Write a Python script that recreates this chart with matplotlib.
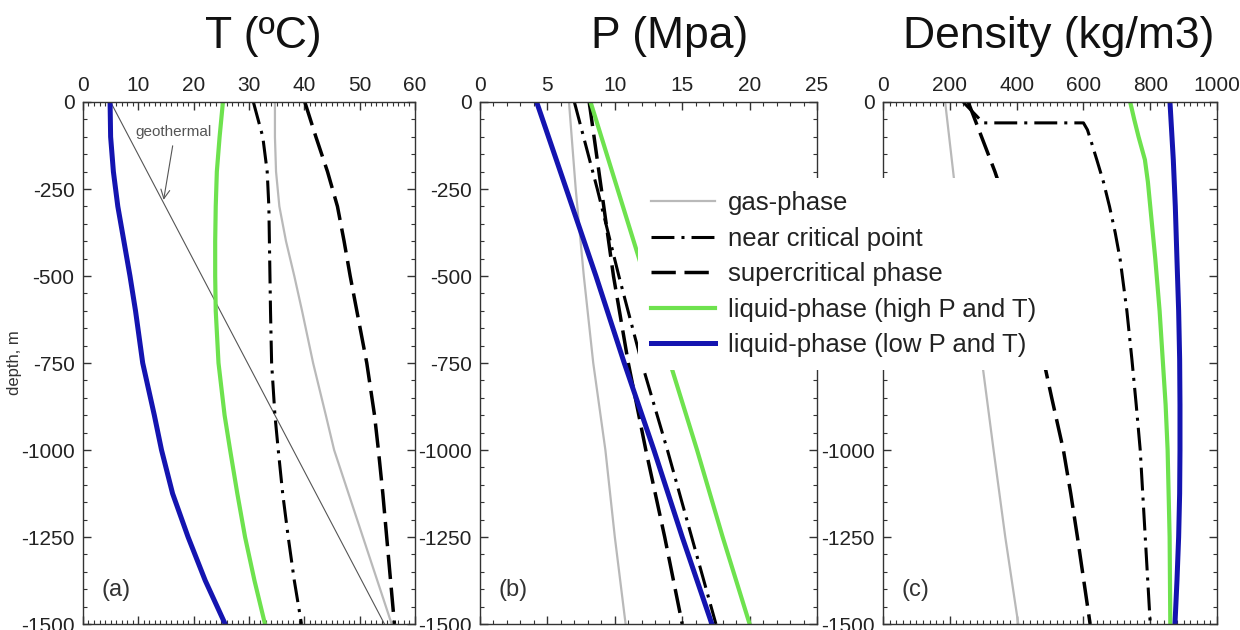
import matplotlib
matplotlib.use("Agg")
import matplotlib.pyplot as plt
from matplotlib.ticker import MultipleLocator, FuncFormatter

plt.rcParams["font.family"] = ["Liberation Sans", "DejaVu Sans"]
plt.rcParams["axes.unicode_minus"] = False

# ---- data (depth in m, negative downwards) ----
# panel (a) temperature, degC
depth_T = [0, -100, -200, -300, -400, -500, -600, -750, -900, -1000, -1125, -1250, -1375, -1500]
T_gas = [34.7, 34.7, 34.9, 35.5, 36.7, 38.2, 39.6, 41.6, 43.9, 45.4, 48.0, 50.6, 53.2, 55.8]
T_near = [30.8, 32.5, 33.3, 33.6, 33.7, 33.8, 33.9, 34.1, 34.7, 35.3, 36.1, 37.1, 38.2, 39.5]
T_super = [40.1, 42.1, 44.2, 46.0, 47.2, 48.3, 49.5, 51.3, 52.7, 53.4, 54.2, 54.9, 55.6, 56.3]
T_liq_high = [25.3, 24.7, 24.2, 24.0, 23.9, 23.9, 24.0, 24.5, 25.6, 26.6, 27.9, 29.3, 31.0, 32.9]
T_liq_low = [4.9, 5.0, 5.5, 6.3, 7.4, 8.5, 9.5, 10.8, 12.9, 14.2, 16.2, 19.0, 22.1, 25.7]
depth_geo = [0, -1500]
T_geo = [5.0, 54.5]

# panel (b) pressure, MPa
depth_P = [0, -250, -500, -750, -1000, -1250, -1500]
P_gas = [6.6, 7.1, 7.7, 8.4, 9.3, 10.0, 10.8]
P_near = [7.0, 8.7, 10.3, 12.0, 13.9, 15.7, 17.5]
P_super = [8.1, 9.0, 9.9, 11.0, 12.3, 13.7, 15.0]
P_liq_high = [8.2, 10.2, 12.2, 14.1, 16.1, 18.0, 20.0]
P_liq_low = [4.2, 6.4, 8.6, 10.7, 12.9, 15.0, 17.2]

# panel (c) density, kg/m3
depth_D_gas = [0, -250, -500, -750, -1000, -1250, -1500]
D_gas = [186, 216, 255, 297, 331, 366, 405]
depth_D_near = [0, -60, -60, -80, -110, -166, -230, -300, -375, -453, -600, -739,
                -870, -1000, -1250, -1500]
D_near = [240, 300, 600, 612, 622, 640, 660, 678, 695, 710, 730, 745, 758, 770, 785, 800]
depth_D_super = [0, -100, -200, -300, -400, -500, -650, -850, -1000, -1125, -1250, -1375, -1500]
D_super = [255, 295, 335, 370, 400, 428, 460, 505, 540, 562, 582, 601, 620]
depth_D_high = [0, -50, -100, -166, -230, -300, -450, -600, -750, -870, -1000, -1250, -1500]
D_liq_high = [740, 752, 765, 784, 793, 800, 815, 828, 838, 846, 852, 858, 860]
depth_D_low = [0, -166, -300, -453, -600, -739, -870, -1000, -1125, -1250, -1375, -1500]
D_liq_low = [859, 869, 875, 880, 885, 888, 889, 889, 888, 885, 880, 874]

labels = ["gas-phase", "near critical point", "supercritical phase",
          "liquid-phase (high P and T)", "liquid-phase (low P and T)"]

# line styles
gray = "#b9b9b9"
green = "#6ee24e"
blue = "#1414b0"
st_gas = dict(color=gray, lw=1.6)
st_near = dict(color="black", lw=2.2, linestyle=(0, (7.5, 2.3, 1, 2.3)))
st_super = dict(color="black", lw=2.5, linestyle=(0, (7, 2.5)))
st_high = dict(color=green, lw=3.0)
st_low = dict(color=blue, lw=3.6)

fig = plt.figure(figsize=(12.4, 6.3), dpi=100)
bottom, height = 0.0095, 0.8286
ax1 = fig.add_axes([0.0669, bottom, 0.2677, height])
ax2 = fig.add_axes([0.3871, bottom, 0.2718, height])
ax3 = fig.add_axes([0.7121, bottom, 0.2694, height])

# (a) temperature
ax1.plot(T_geo, depth_geo, color="#555555", lw=0.8)
ax1.plot(T_gas, depth_T, **st_gas)
ax1.plot(T_near, depth_T, **st_near)
ax1.plot(T_super, depth_T, **st_super)
ax1.plot(T_liq_high, depth_T, **st_high)
ax1.plot(T_liq_low, depth_T, **st_low)
ax1.text(16.3, -86, "geothermal", ha="center", va="center", fontsize=11, color="#555555")
ax1.annotate("", xy=(14.5, -289), xytext=(16.3, -118),
             arrowprops=dict(arrowstyle="->", color="#555555", lw=0.8, mutation_scale=16))

# (b) pressure
ax2.plot(P_gas, depth_P, **st_gas)
ax2.plot(P_near, depth_P, **st_near)
ax2.plot(P_super, depth_P, **st_super)
ax2.plot(P_liq_high, depth_P, **st_high)
ax2.plot(P_liq_low, depth_P, **st_low)

# (c) density
h_gas, = ax3.plot(D_gas, depth_D_gas, **st_gas)
h_near, = ax3.plot(D_near, depth_D_near, **st_near)
h_super, = ax3.plot(D_super, depth_D_super, **st_super)
h_high, = ax3.plot(D_liq_high, depth_D_high, **st_high)
h_low, = ax3.plot(D_liq_low, depth_D_low, **st_low)

limits = [(0, 60, 10, 1), (0, 25, 5, 1), (0, 1000, 200, 20)]
for ax, (x0, x1, major, minor), tag in zip([ax1, ax2, ax3], limits, ["(a)", "(b)", "(c)"]):
    ax.set_xlim(x0, x1)
    ax.set_ylim(-1500, 0)
    ax.xaxis.set_major_locator(MultipleLocator(major))
    ax.xaxis.set_minor_locator(MultipleLocator(minor))
    ax.yaxis.set_major_locator(MultipleLocator(250))
    ax.yaxis.set_minor_locator(MultipleLocator(50))
    ax.tick_params(axis="both", which="both", direction="in", top=True, bottom=True,
                   left=True, right=True, labeltop=True, labelbottom=False,
                   colors="#333333", labelcolor="#222222")
    ax.tick_params(axis="both", which="major", length=6, width=1, labelsize=15)
    ax.tick_params(axis="x", which="major", pad=5)
    ax.tick_params(axis="y", which="major", pad=6)
    ax.tick_params(axis="both", which="minor", length=3, width=0.8)
    for sp in ax.spines.values():
        sp.set_color("#333333")
        sp.set_linewidth(1.0)
    ax.text(0.055, 0.066, tag, transform=ax.transAxes, fontsize=17,
            color="#333333", va="center", ha="left")

# depth labels of panel (c) that sit under the legend box are not shown
ax3.yaxis.set_major_formatter(FuncFormatter(
    lambda v, pos: "" if -800 < v < -100 else "%d" % v))

ax1.set_ylabel("depth, m", fontsize=12, color="#333333", labelpad=-1)

fig.text(0.2125, 0.924, "T (ºC)", ha="center", va="baseline", fontsize=32, color="#111111")
fig.text(0.540, 0.924, "P (Mpa)", ha="center", va="baseline", fontsize=32, color="#111111")
fig.text(0.854, 0.924, "Density (kg/m3)", ha="center", va="baseline", fontsize=32, color="#111111")

leg = ax3.legend([h_gas, h_near, h_super, h_high, h_low], labels,
                 loc="upper left", bbox_to_anchor=(0.5145, 0.717),
                 bbox_transform=fig.transFigure, borderaxespad=0,
                 fontsize=18.5, frameon=True, fancybox=False, framealpha=1,
                 facecolor="white", edgecolor="none", borderpad=0.5,
                 labelspacing=0.45, handlelength=2.5, handletextpad=0.5)
for t in leg.get_texts():
    t.set_color("#222222")

fig.savefig("out.png", dpi=100)
